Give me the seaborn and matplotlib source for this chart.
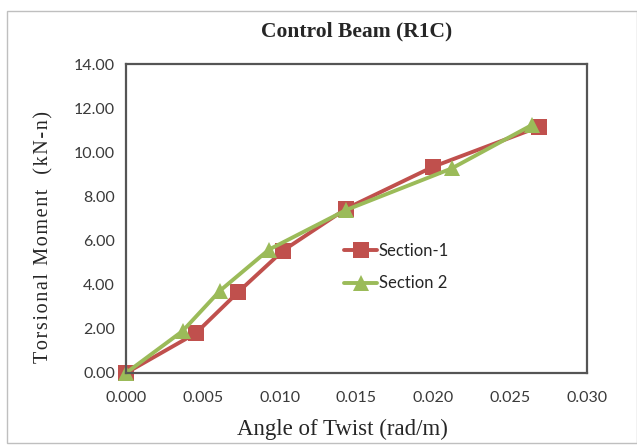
import pandas as pd
import numpy as np
import matplotlib
matplotlib.use("Agg")
import matplotlib.pyplot as plt
import matplotlib.patches as mpatches
import seaborn as sns

# ---------------------------------------------------------------------------
# Data
# ---------------------------------------------------------------------------
twist_s1 = [0.0, 0.00454, 0.00729, 0.01023, 0.01434, 0.0200, 0.0269]
moment_s1 = [0.0, 1.80, 3.66, 5.55, 7.45, 9.35, 11.16]

twist_s2 = [0.0, 0.00368, 0.00612, 0.0093, 0.01434, 0.0212, 0.0264]
moment_s2 = [0.0, 1.90, 3.73, 5.59, 7.39, 9.27, 11.23]

series_names = ["Section-1", "Section 2"]
x_ticks = [0.000, 0.005, 0.010, 0.015, 0.020, 0.025, 0.030]
y_ticks = [0, 2, 4, 6, 8, 10, 12, 14]

df = pd.concat([
    pd.DataFrame({"twist": twist_s1, "moment": moment_s1, "series": series_names[0]}),
    pd.DataFrame({"twist": twist_s2, "moment": moment_s2, "series": series_names[1]}),
], ignore_index=True)

sns.set_style("white")
tick_font = ["Lato", "DejaVu Sans"]
serif_font = ["Liberation Serif", "DejaVu Serif"]

fig = plt.figure(figsize=(6.37, 4.47), dpi=100)
ax = fig.add_axes([126 / 637, 1 - 373 / 447, (587 - 126) / 637, (373 - 64) / 447])

palette = {"Section-1": "#C0504D", "Section 2": "#9BBB59"}
markers = {"Section-1": "s", "Section 2": "^"}
sns.lineplot(data=df, x="twist", y="moment", hue="series", style="series",
             palette=palette, markers=markers, dashes=False, sort=False,
             linewidth=2.8, markersize=12, markeredgewidth=0, ax=ax,
             clip_on=False)

ax.set_xlim(0, 0.030)
ax.set_ylim(0, 14)
ax.set_xticks(x_ticks)
ax.set_xticklabels([f"{t:.3f}" for t in x_ticks], family=tick_font, fontsize=11.5, color="#3a3a3a")
ax.set_yticks(y_ticks)
ax.set_yticklabels([f"{t:.2f}" for t in y_ticks], family=tick_font, fontsize=11.5, color="#3a3a3a")
ax.tick_params(axis="x", pad=13, length=0)
ax.tick_params(axis="y", pad=8, length=0)

for sp in ax.spines.values():
    sp.set_color("#555555")
    sp.set_linewidth(1.6)

ax.set_xlabel("Angle of Twist (rad/m)", family=serif_font, fontsize=16.5)
ax.xaxis.set_label_coords(0.47, -0.148)
# slightly letter-spaced y label, as in the source
ylab = "\u200a".join("Torsional Moment  (kN-n)")
ax.set_ylabel(ylab, family=serif_font, fontsize=14.5)
ax.yaxis.set_label_coords(-0.158, 0.44)
ax.set_title("Control Beam (R1C)", family=serif_font, fontsize=15.5, fontweight="bold", pad=20)

leg = ax.legend(loc="upper left", bbox_to_anchor=(0.44, 0.47), frameon=False,
                prop={"family": tick_font, "size": 12}, handlelength=2.0,
                handletextpad=0.1, labelspacing=1.0)

# light outer border like the source screenshot
fig.patches.append(mpatches.Rectangle((7 / 637, 1 - 443 / 447), 630 / 637, 432 / 447,
                                      transform=fig.transFigure, fill=False,
                                      edgecolor="#bfbfbf", linewidth=1.0))

plt.savefig("out.png", dpi=100)
